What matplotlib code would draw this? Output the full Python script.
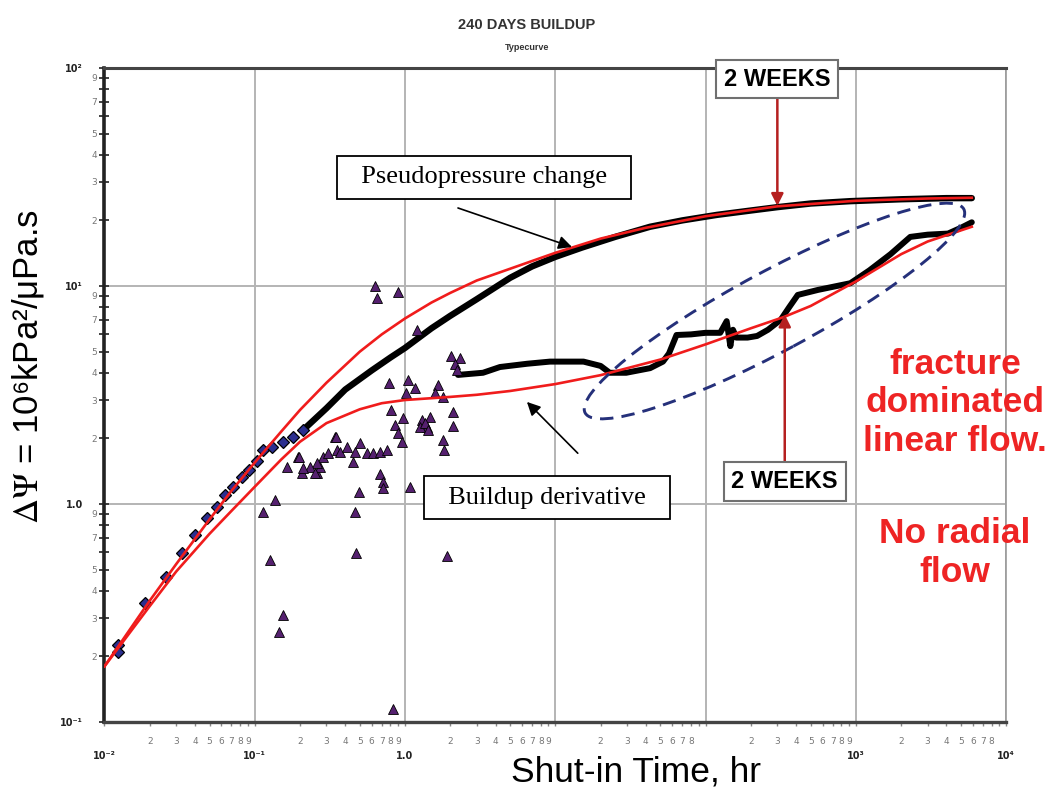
import matplotlib
matplotlib.use("Agg")
import matplotlib.pyplot as plt
from matplotlib.patches import Ellipse
from matplotlib import transforms
from matplotlib.ticker import FixedLocator, FixedFormatter

plt.rcParams['mathtext.fontset'] = 'stix'

# ---------------- data ----------------
# early pressure-change points (blue diamonds), hr / 10^6 kPa^2/uPa.s
press_early_t = [0.0123, 0.0123, 0.0186, 0.0257, 0.0328, 0.040, 0.0481, 0.0561, 0.0634,
                 0.0717, 0.0823, 0.0915, 0.1035, 0.1135, 0.130, 0.154, 0.180, 0.209]
press_early_dp = [0.225, 0.21, 0.351, 0.462, 0.596, 0.721, 0.863, 0.969, 1.10,
                  1.20, 1.33, 1.43, 1.57, 1.77, 1.83, 1.92, 2.03, 2.18]

# dense pressure-change data (black band)
press_t = [0.209, 0.3, 0.4, 0.6, 0.8, 1.0, 1.5, 2.0, 3.0, 5.0, 7.0, 10, 15, 25, 42.7,
           70, 119, 200, 300, 500, 912, 2000, 4000, 5900]
press_dp = [2.18, 2.75, 3.35, 4.1, 4.7, 5.2, 6.4, 7.3, 8.7, 10.9, 12.3, 13.6, 15.0, 16.8, 18.7,
            20.0, 21.2, 22.2, 23.0, 23.9, 24.5, 25.0, 25.3, 25.3]

# model pressure change (red, upper)
model_p_t = [0.01, 0.02, 0.03, 0.05, 0.07, 0.1, 0.15, 0.2, 0.3, 0.5, 0.7, 1.0, 1.5, 2.0,
             3.0, 5.0, 10, 20, 40, 100, 300, 1000, 3000, 5900]
model_p_dp = [0.18, 0.36, 0.53, 0.85, 1.15, 1.55, 2.15, 2.7, 3.6, 5.0, 6.0, 7.1, 8.4, 9.3,
              10.6, 12.0, 14.2, 16.5, 18.5, 20.9, 23.2, 24.6, 25.2, 25.4]

# model derivative (red, lower)
model_d_t = [0.01, 0.02, 0.03, 0.05, 0.07, 0.1, 0.15, 0.2, 0.3, 0.5, 0.7, 1.0, 2.0, 3.0,
             5.0, 10, 20, 50, 100, 200, 330, 500, 1000, 2000, 3000, 5900]
model_d_dp = [0.18, 0.34, 0.49, 0.73, 0.93, 1.2, 1.6, 1.93, 2.35, 2.72, 2.9, 3.0, 3.1, 3.17,
              3.3, 3.55, 3.9, 4.6, 5.4, 6.4, 7.2, 8.1, 10.5, 14.0, 16.0, 18.7]

# buildup derivative data (black band)
deriv_t = [2.25, 3.3, 4.28, 6.5, 9.2, 15.4, 20, 23, 29.6, 42.7, 52, 57, 64, 80, 100, 125,
           138, 146, 152, 160, 190, 220, 260, 316, 360, 410, 560, 918, 1230, 1700, 2300,
           3000, 4100, 5000, 5900]
deriv_dp = [3.91, 4.0, 4.25, 4.4, 4.5, 4.5, 4.3, 4.0, 4.0, 4.2, 4.5, 4.9, 5.96, 6.0, 6.1, 6.1,
            6.9, 5.3, 6.3, 5.8, 5.8, 5.9, 6.3, 7.0, 8.0, 9.1, 9.6, 10.3, 11.8, 14, 16.8,
            17.2, 17.4, 18.5, 19.6]

# early noisy derivative points (purple triangles)
tri_t = [0.1135, 0.136, 0.126, 0.154, 0.145, 0.164, 0.194, 0.206, 0.259, 0.272, 0.285,
         0.342, 0.352, 0.631, 0.650, 0.897, 1.20, 0.782, 1.05, 1.16, 1.01, 1.66, 1.58,
         1.79, 2.08, 2.02, 2.32, 2.15, 2.2, 0.806, 0.968, 0.857, 0.897, 0.953, 1.30,
         1.40, 1.47, 1.26, 2.08, 1.79, 1.82, 0.347, 0.307, 0.369, 0.410, 0.464, 0.501,
         0.558, 0.611, 0.681, 0.758, 0.450, 0.259, 0.233, 0.209, 0.197, 0.252, 0.681,
         0.713, 0.713, 1.08, 0.493, 0.464, 0.471, 1.90, 0.830, 1.35, 1.42]
tri_dp = [0.918, 1.04, 0.553, 0.310, 0.259, 1.48, 1.64, 1.39, 1.39, 1.48, 1.64,
          2.03, 1.77, 10.0, 8.81, 9.38, 6.28, 3.59, 3.71, 3.40, 3.23, 3.52, 3.23,
          3.10, 2.64, 4.78, 4.68, 4.4, 4.1, 2.70, 2.48, 2.30, 2.12, 1.92, 2.43,
          2.25, 2.51, 2.25, 2.28, 1.97, 1.77, 2.03, 1.72, 1.73, 1.83, 1.73, 1.90,
          1.72, 1.72, 1.73, 1.77, 1.56, 1.54, 1.48, 1.46, 1.64, 1.39, 1.37,
          1.26, 1.18, 1.20, 1.13, 0.918, 0.596, 0.577, 0.115, 2.35, 2.18]

x_major = [1e-2, 1e-1, 1, 1e1, 1e2, 1e3, 1e4]
x_major_labels = ['10⁻²', '10⁻¹', '1.0', '', '', '10³', '10⁴']
y_major = [0.1, 1, 10, 100]
y_major_labels = ['10⁻¹', '1.0', '10¹', '10²']

two_weeks_upper = (300, 23.3)
two_weeks_lower = (336, 7.4)

# ---------------- figure ----------------
fig = plt.figure(figsize=(10.51, 7.89), dpi=100)
ax = fig.add_axes([0.0994, 0.0849, 0.8580, 0.8289])
ax.set_xscale('log')
ax.set_yscale('log')
ax.set_xlim(1e-2, 1e4)
ax.set_ylim(0.1, 100)

ax.grid(which='major', color='#b4b4b4', lw=1.4, zorder=0)
ax.set_axisbelow(True)

# data
ax.plot(press_t, press_dp, color='black', lw=4.6, solid_capstyle='round', zorder=3)
ax.plot(press_early_t, press_early_dp, ls='none', marker='D', ms=6.3,
        mfc='#2b2f8f', mec='black', mew=0.9, zorder=4)
ax.plot(deriv_t, deriv_dp, color='black', lw=4.3, solid_capstyle='round', zorder=3)
ax.plot(tri_t, tri_dp, ls='none', marker='^', ms=6.6, mfc='#55206f', mec='black',
        mew=0.6, zorder=4)
ax.plot(model_p_t, model_p_dp, color='#f01c1c', lw=1.9, zorder=5)
ax.plot(model_d_t, model_d_dp, color='#f01c1c', lw=1.9, zorder=5)

# ticks
minor_x, minor_x_lab = [], []
for d in range(-2, 4):
    for m in range(2, 10):
        minor_x.append(m * 10.0 ** d)
        minor_x_lab.append('' if (m == 9 and d in (1, 3)) else str(m))
ax.xaxis.set_major_locator(FixedLocator(x_major))
ax.xaxis.set_major_formatter(FixedFormatter(x_major_labels))
ax.xaxis.set_minor_locator(FixedLocator(minor_x))
ax.xaxis.set_minor_formatter(FixedFormatter(minor_x_lab))

minor_y, minor_y_lab = [], []
for d in range(-1, 2):
    for m in range(2, 10):
        minor_y.append(m * 10.0 ** d)
        minor_y_lab.append(str(m) if m in (2, 3, 4, 5, 7, 9) else '')
ax.yaxis.set_major_locator(FixedLocator(y_major))
ax.yaxis.set_major_formatter(FixedFormatter(y_major_labels))
ax.yaxis.set_minor_locator(FixedLocator(minor_y))
ax.yaxis.set_minor_formatter(FixedFormatter(minor_y_lab))

ax.tick_params(axis='x', which='major', direction='out', length=3, width=1,
               color='#888888', labelsize=7, pad=18, labelcolor='#222222')
ax.tick_params(axis='x', which='minor', direction='out', length=3, width=1,
               color='#888888', labelsize=6.5, pad=8, labelcolor='#777777')
ax.tick_params(axis='y', which='major', direction='inout', length=7, width=1.3,
               color='#333333', labelsize=7, pad=12, labelcolor='#222222')
ax.tick_params(axis='y', which='minor', direction='inout', length=7, width=1.3,
               color='#333333', labelsize=6.5, pad=2, labelcolor='#777777')
for lab in ax.get_xticklabels() + ax.get_yticklabels():
    lab.set_fontweight('bold')

ax.spines['left'].set_linewidth(2.6)
ax.spines['left'].set_color('#222222')
ax.spines['bottom'].set_linewidth(2.4)
ax.spines['bottom'].set_color('#444444')
ax.spines['top'].set_linewidth(2.2)
ax.spines['top'].set_color('#444444')
ax.spines['right'].set_linewidth(1.2)
ax.spines['right'].set_color('#9a9a9a')

# dashed ellipse around the linear-flow region
el = Ellipse((0, 0), width=4.3, height=0.8, angle=28.3,
             transform=fig.dpi_scale_trans + transforms.ScaledTranslation(287, 7.68, ax.transData),
             fill=False, ec='#25307a', lw=2.1, ls=(0, (4.6, 2.8)), zorder=6)
ax.add_patch(el)

# annotation boxes
box_kw = dict(boxstyle='square,pad=0.4', fc='white', ec='black', lw=1.3)
ax.text(3.35, 31.6, '  Pseudopressure change  ', ha='center', va='center', fontsize=19,
        family='Liberation Serif', zorder=8, bbox=box_kw)
ax.text(8.79, 1.07, '  Buildup derivative  ', ha='center', va='center', fontsize=19,
        family='Liberation Serif', zorder=8, bbox=box_kw)
black_arrow = dict(arrowstyle='-|>', color='black', lw=1.2, mutation_scale=20,
                   shrinkA=0, shrinkB=0)
ax.annotate('', xy=(12.9, 15.1), xytext=(2.25, 22.8), arrowprops=black_arrow, zorder=8)
ax.annotate('', xy=(6.47, 2.94), xytext=(14.1, 1.71), arrowprops=black_arrow, zorder=8)

ax.annotate('2 WEEKS', xy=two_weeks_upper, xytext=(300, 89), textcoords='data',
            ha='center', va='center', fontsize=17, fontweight='bold',
            family='Liberation Sans', zorder=9, annotation_clip=False,
            bbox=dict(boxstyle='square,pad=0.33', fc='white', ec='#707070', lw=1.5),
            arrowprops=dict(arrowstyle='-|>', color='#b52020', lw=1.8, mutation_scale=18,
                            shrinkA=0, shrinkB=0))
ax.annotate('2 WEEKS', xy=two_weeks_lower, xytext=(336, 1.27), textcoords='data',
            ha='center', va='center', fontsize=17, fontweight='bold',
            family='Liberation Sans', zorder=9,
            bbox=dict(boxstyle='square,pad=0.33', fc='white', ec='#707070', lw=1.5),
            arrowprops=dict(arrowstyle='-|>', color='#b52020', lw=1.8, mutation_scale=18,
                            shrinkA=0, shrinkB=0))

# red side notes
fig.text(955 / 1051, 1 - 403 / 789, 'fracture\ndominated\nlinear flow.', ha='center',
         va='center', color='#ee2424', fontsize=25.5, fontweight='bold',
         family='Liberation Sans', linespacing=1.2)
fig.text(955 / 1051, 1 - 553 / 789, 'No radial\nflow', ha='center', va='center',
         color='#ee2424', fontsize=25.5, fontweight='bold', family='Liberation Sans',
         linespacing=1.2)

# titles and axis labels
fig.text(527 / 1051, 1 - 25 / 789, '240 DAYS BUILDUP', ha='center', va='center',
         fontsize=10.5, fontweight='bold', color='#333333',
         family=['Liberation Sans Narrow', 'Liberation Sans'])
fig.text(527 / 1051, 1 - 47 / 789, 'Typecurve', ha='center', va='center',
         fontsize=6.5, fontweight='bold', color='#333333', family='Liberation Sans')
fig.text(636 / 1051, 1 - 772 / 789, 'Shut-in Time, hr', ha='center', va='center',
         fontsize=25.5, family='Liberation Sans')
fig.text(28 / 1051, 1 - 367 / 789, r'$\Delta\Psi$ = 10⁶kPa²/μPa.s', ha='center',
         va='center', rotation=90, fontsize=25, family=['Liberation Sans', 'DejaVu Sans'])

fig.savefig('out.png', dpi=100)
